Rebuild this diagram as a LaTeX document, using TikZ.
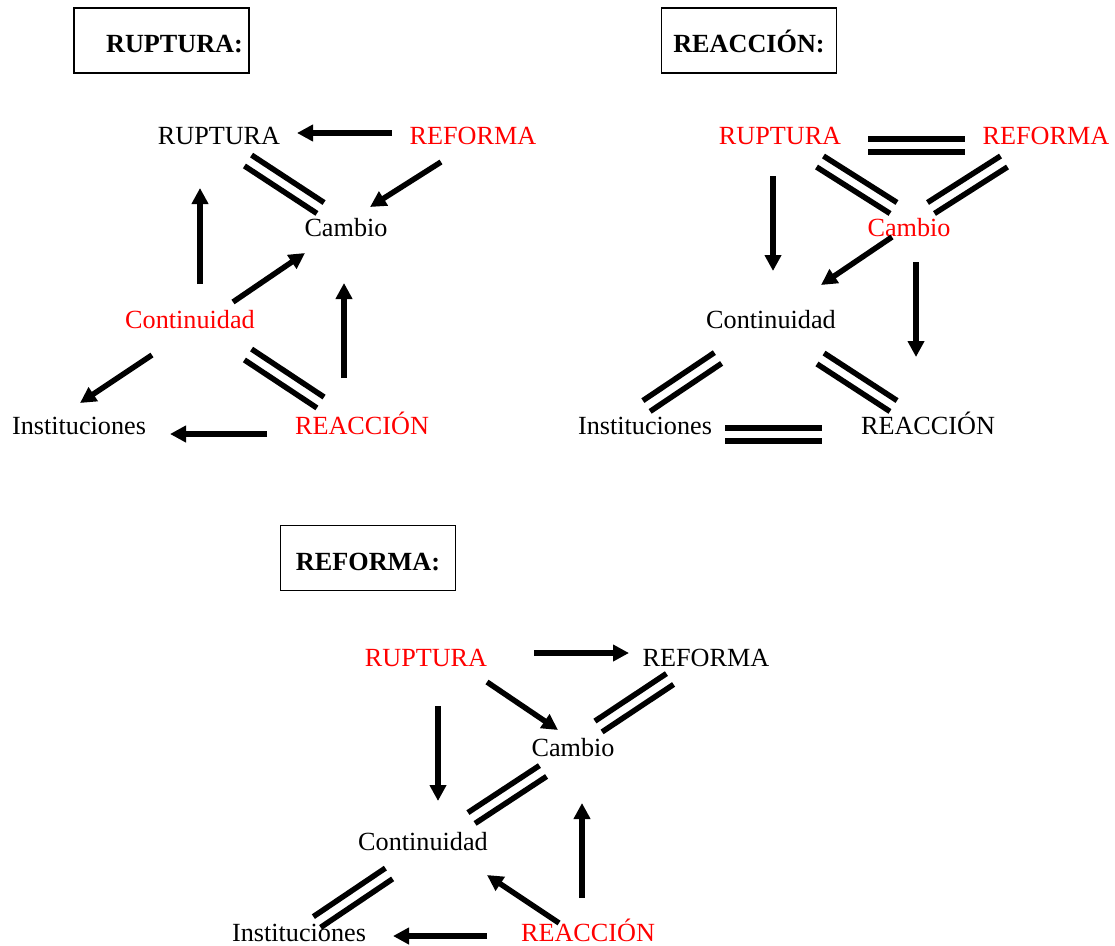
\documentclass[tikz,border=0pt]{standalone}
\usepackage{fontspec}
\setmainfont{Liberation Serif}
\usetikzlibrary{arrows.meta,calc}

\tikzset{
  txt/.style={font=\fontsize{26.2}{30}\selectfont, inner sep=0pt, text height=18pt, text depth=0pt},
  rojo/.style={txt, text=red},
  titulo/.style={draw, line width=1.8pt, font=\fontsize{26.2}{30}\selectfont\bfseries,
    minimum width=175pt, minimum height=65pt, inner sep=0pt, text height=26pt, text depth=2pt},
  flecha/.style={line width=5.5pt, -{Triangle[length=16pt,width=16pt]}},
  raya/.style={line width=5.5pt},
}

\newcommand{\puntos}{
    % panel RUPTURA
    \coordinate (f1a) at (392,133);  \coordinate (f1b) at (297,133);
    \coordinate (f2a) at (441,162);  \coordinate (f2b) at (370,207);
    \coordinate (f3a) at (200,284);  \coordinate (f3b) at (200,188);
    \coordinate (f4a) at (233,302);  \coordinate (f4b) at (305,253);
    \coordinate (f5a) at (152,355);  \coordinate (f5b) at (80,403);
    \coordinate (f6a) at (344,378);  \coordinate (f6b) at (344,283);
    \coordinate (f7a) at (267,434);  \coordinate (f7b) at (170,434);
    \coordinate (d1a) at (248,160.5);  \coordinate (d1b) at (320.5,208);
    \coordinate (d2a) at (248,354.5);  \coordinate (d2b) at (320.5,402.5);

    % panel REACCION
    \coordinate (f8a) at (773,176);  \coordinate (f8b) at (773,271);
    \coordinate (f9a) at (892,237);  \coordinate (f9b) at (821,285);
    \coordinate (f10a) at (916,262); \coordinate (f10b) at (916,357);
    \coordinate (d3a) at (868,145.5);  \coordinate (d3b) at (965,145.5);
    \coordinate (d4a) at (820,161.5);  \coordinate (d4b) at (893.5,208);
    \coordinate (d5a) at (1004,161.5); \coordinate (d5b) at (931,208);
    \coordinate (d6a) at (718,358);    \coordinate (d6b) at (646.5,406);
    \coordinate (d7a) at (820.5,358.5); \coordinate (d7b) at (893.5,406);
    \coordinate (d8a) at (725,434.5);  \coordinate (d8b) at (822,434.5);

    % panel REFORMA
    \coordinate (f11a) at (534,653); \coordinate (f11b) at (629,653);
    \coordinate (f12a) at (487,682); \coordinate (f12b) at (558,730);
    \coordinate (f13a) at (438,706); \coordinate (f13b) at (438,801);
    \coordinate (f14a) at (582,898); \coordinate (f14b) at (582,803);
    \coordinate (f15a) at (559,923); \coordinate (f15b) at (487,875);
    \coordinate (f16a) at (487,936); \coordinate (f16b) at (393,936);
    \coordinate (d9a) at (670,679);    \coordinate (d9b) at (598.5,726.5);
    \coordinate (d10a) at (543,771);   \coordinate (d10b) at (471.5,818);
    \coordinate (d11a) at (389,873.5); \coordinate (d11b) at (317,922);
}

\newcommand{\dobleraya}[2]{
  \draw[raya] ($(#1)!6.5pt!90:(#2)$) -- ($(#2)!6.5pt!-90:(#1)$);
  \draw[raya] ($(#1)!6.5pt!-90:(#2)$) -- ($(#2)!6.5pt!90:(#1)$);
}

\begin{document}
\begin{tikzpicture}[x=1pt,y=-1pt]
  \useasboundingbox (0,0) rectangle (1115,945);
  \puntos;

  % RUPTURA
  \node[titulo] (t1) at (161.5,40.5) {\hspace*{26pt}RUPTURA:};
  \node[txt]  (rup1) at (219,135) {RUPTURA};
  \node[rojo] (ref1) at (473,135) {REFORMA};
  \node[txt]  (cam1) at (346,227) {Cambio};
  \node[rojo] (con1) at (190,319) {Continuidad};
  \node[txt]  (ins1) at (79,425)  {Instituciones};
  \node[rojo] (rea1) at (362,425) {REACCIÓN};

  \draw[flecha] (f1a) -- (f1b);
  \draw[flecha] (f2a) -- (f2b);
  \draw[flecha] (f3a) -- (f3b);
  \draw[flecha] (f4a) -- (f4b);
  \draw[flecha] (f5a) -- (f5b);
  \draw[flecha] (f6a) -- (f6b);
  \draw[flecha] (f7a) -- (f7b);
  \dobleraya{d1a}{d1b}
  \dobleraya{d2a}{d2b}

  % REACCION
  \node[titulo] (t2) at (749,40.5) {REACCIÓN:};
  \node[rojo] (rup2) at (780,135)  {RUPTURA};
  \node[rojo] (ref2) at (1046,135) {REFORMA};
  \node[rojo] (cam2) at (909,227)  {Cambio};
  \node[txt]  (con2) at (771,319)  {Continuidad};
  \node[txt]  (ins2) at (645,425)  {Instituciones};
  \node[txt]  (rea2) at (928,425)  {REACCIÓN};

  \draw[flecha] (f8a) -- (f8b);
  \draw[flecha] (f9a) -- (f9b);
  \draw[flecha] (f10a) -- (f10b);
  \dobleraya{d3a}{d3b}
  \dobleraya{d4a}{d4b}
  \dobleraya{d5a}{d5b}
  \dobleraya{d6a}{d6b}
  \dobleraya{d7a}{d7b}
  \dobleraya{d8a}{d8b}

  % REFORMA
  \node[titulo] (t3) at (368,558) {REFORMA:};
  \node[rojo] (rup3) at (426,657) {RUPTURA};
  \node[txt]  (ref3) at (706,657) {REFORMA};
  \node[txt]  (cam3) at (573,747) {Cambio};
  \node[txt]  (con3) at (423,841) {Continuidad};
  \node[txt]  (ins3) at (299,932) {Instituciones};
  \node[rojo] (rea3) at (588,932) {REACCIÓN};

  \draw[flecha] (f11a) -- (f11b);
  \draw[flecha] (f12a) -- (f12b);
  \draw[flecha] (f13a) -- (f13b);
  \draw[flecha] (f14a) -- (f14b);
  \draw[flecha] (f15a) -- (f15b);
  \draw[flecha] (f16a) -- (f16b);
  \dobleraya{d9a}{d9b}
  \dobleraya{d10a}{d10b}
  \dobleraya{d11a}{d11b}
\end{tikzpicture}
\end{document}
